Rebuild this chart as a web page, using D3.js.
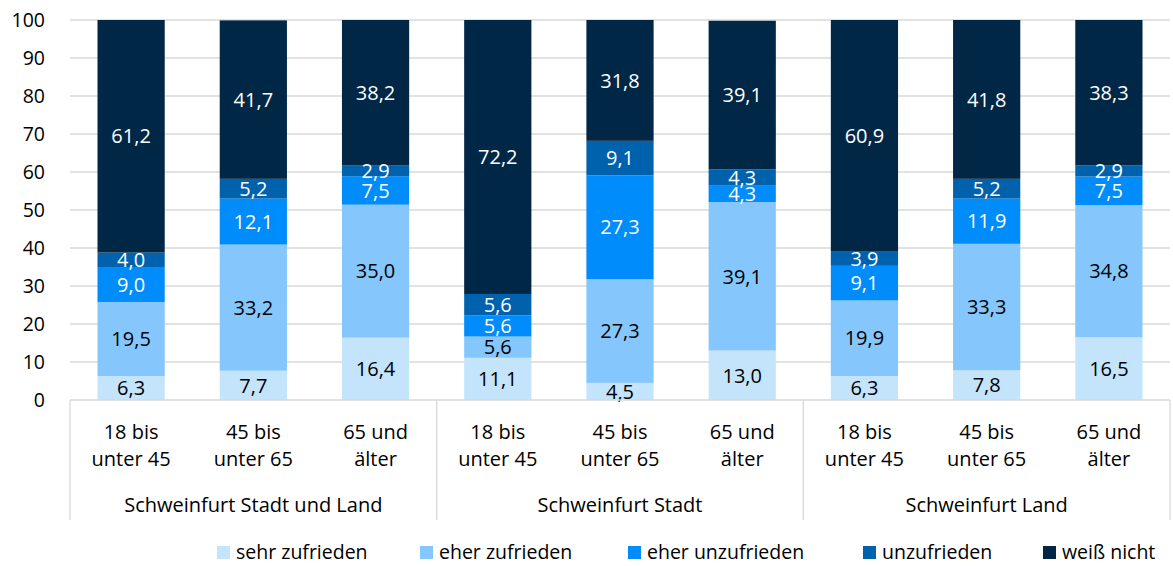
<!DOCTYPE html>
<html>
<head>
<meta charset="utf-8">
<script src="https://cdn.jsdelivr.net/npm/d3@7"></script>
<style>
  html, body { margin: 0; padding: 0; background: #fff; }
  svg { display: block; font-family: "Open Sans", Lato, sans-serif; }
</style>
</head>
<body>
<svg id="chart" width="1173" height="566"></svg>
<script>
// Satisfaction by age group, shares in percent
const groups = ["Schweinfurt Stadt und Land", "Schweinfurt Stadt", "Schweinfurt Land"];
const ageGroups = [["18 bis", "unter 45"], ["45 bis", "unter 65"], ["65 und", "älter"]];
const seriesNames = ["sehr zufrieden", "eher zufrieden", "eher unzufrieden", "unzufrieden", "weiß nicht"];
const seriesColors = ["#c4e4fc", "#85c7fd", "#008cfa", "#0062ad", "#002745"];
const labelColors = ["#000", "#000", "#fff", "#fff", "#fff"];
const yTicks = [0, 10, 20, 30, 40, 50, 60, 70, 80, 90, 100];

// one entry per bar (three age groups in each of the three regions)
const sehrZufrieden   = [6.3, 7.7, 16.4, 11.1, 4.5, 13.0, 6.3, 7.8, 16.5];
const eherZufrieden   = [19.5, 33.2, 35.0, 5.6, 27.3, 39.1, 19.9, 33.3, 34.8];
const eherUnzufrieden = [9.0, 12.1, 7.5, 5.6, 27.3, 4.3, 9.1, 11.9, 7.5];
const unzufrieden     = [4.0, 5.2, 2.9, 5.6, 9.1, 4.3, 3.9, 5.2, 2.9];
const weissNicht      = [61.2, 41.7, 38.2, 72.2, 31.8, 39.1, 60.9, 41.8, 38.3];

const seriesValues = [sehrZufrieden, eherZufrieden, eherUnzufrieden, unzufrieden, weissNicht];

const rows = d3.range(9).map(i => {
  const r = { id: i, group: Math.floor(i / 3), age: i % 3 };
  seriesNames.forEach((s, k) => r[s] = seriesValues[k][i]);
  return r;
});

const svg = d3.select("#chart");
const x0 = 70, x1 = 1170;
const yTop = 20, yBot = 400;
const FONT = "'Open Sans', Lato, sans-serif";

const x = d3.scaleBand().domain(rows.map(r => r.id)).range([x0, x1]).paddingInner(0.45).paddingOuter(0.225);
const y = d3.scaleLinear().domain([0, 100]).range([yBot, yTop]);

// gridlines
svg.append("g").selectAll("line").data(yTicks.slice(1)).join("line")
  .attr("x1", x0).attr("x2", x1)
  .attr("y1", d => y(d)).attr("y2", d => y(d))
  .attr("stroke", "#d9d9d9").attr("stroke-width", 1.3);

// y axis labels
const yAxis = d3.axisLeft(y).tickValues(yTicks).tickSize(0).tickPadding(0).tickFormat(d3.format("d"));
const gy = svg.append("g").attr("transform", `translate(45,0)`).call(yAxis);
gy.select(".domain").remove();
gy.selectAll("text").attr("font-size", 19.5).attr("fill", "#000").attr("font-family", FONT);

// stacked bars (top segment ends at the 100 mark)
const stacked = d3.stack().keys(seriesNames)(rows);
const fmt = v => d3.format(".1f")(v).replace(".", ",");

const layers = svg.append("g").selectAll("g").data(stacked).join("g")
  .attr("fill", (d, i) => seriesColors[i]);
layers.selectAll("rect").data(d => d).join("rect")
  .attr("x", d => x(d.data.id))
  .attr("width", x.bandwidth())
  .attr("y", d => y(Math.min(100, d[1])))
  .attr("height", d => y(d[0]) - y(Math.min(100, d[1])));

// value labels centred in each segment
const lab = svg.append("g").attr("font-size", 20).attr("text-anchor", "middle");
stacked.forEach((layer, k) => {
  lab.selectAll(null).data(layer).join("text")
    .attr("x", d => x(d.data.id) + x.bandwidth() / 2)
    .attr("y", d => (y(d[0]) + y(Math.min(100, d[1]))) / 2)
    .attr("dy", "0.36em")
    .attr("fill", labelColors[k])
    .text(d => fmt(d.data[layer.key]));
});

// category axis: baseline, group separators, two-level labels
const axis = svg.append("g").attr("stroke", "#d9d9d9").attr("stroke-width", 1.3);
axis.append("line").attr("x1", x0).attr("x2", x1).attr("y1", yBot).attr("y2", yBot);
const groupWidth = (x1 - x0) / groups.length;
const sepX = d3.range(groups.length + 1).map(i => x0 + i * groupWidth);
sepX.forEach(sx => {
  axis.append("line").attr("x1", sx).attr("x2", sx).attr("y1", yBot).attr("y2", 520);
});

const catLab = svg.append("g").attr("font-size", 20).attr("text-anchor", "middle").attr("fill", "#000");
rows.forEach(r => {
  const cx = x(r.id) + x.bandwidth() / 2;
  const t = catLab.append("text").attr("x", cx).attr("y", 439);
  ageGroups[r.age].forEach((line, j) => {
    t.append("tspan").attr("x", cx).attr("dy", j === 0 ? 0 : 27).text(line);
  });
});
groups.forEach((g, i) => {
  catLab.append("text")
    .attr("x", (sepX[i] + sepX[i + 1]) / 2)
    .attr("y", 512).text(g);
});

// legend
const legendX = [217, 420, 628, 863, 1043];
const leg = svg.append("g").attr("font-size", 19.5);
seriesNames.forEach((s, i) => {
  leg.append("rect").attr("x", legendX[i]).attr("y", 546).attr("width", 13).attr("height", 13).attr("fill", seriesColors[i]);
  leg.append("text").attr("x", legendX[i] + 19).attr("y", 552).attr("dy", "0.36em").text(s);
});
</script>
</body>
</html>
